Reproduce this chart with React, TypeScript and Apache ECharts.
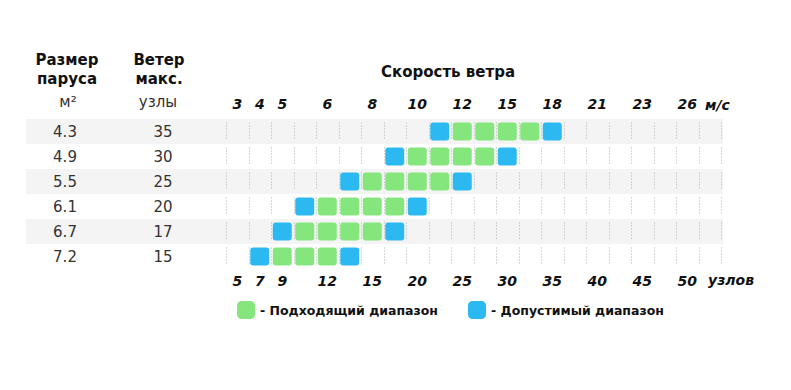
import React, { useEffect, useRef } from "react";
import * as echarts from "echarts";

// Sail sizes (m²) and max wind (knots), top row first
const sailSizes = ["4.3", "4.9", "5.5", "6.1", "6.7", "7.2"];
const maxWind = ["35", "30", "25", "20", "17", "15"];

// Wind speed columns: top labels in m/s, bottom labels in knots ('' = no label)
const msLabels = ["3", "4", "5", "", "6", "", "8", "", "10", "", "12", "", "15", "", "18", "", "21", "", "23", "", "26", ""];
const knotLabels = ["5", "7", "9", "", "12", "", "15", "", "20", "", "25", "", "30", "", "35", "", "40", "", "45", "", "50", ""];

// Column indices per sail row
const optimalCols = [
  [10, 11, 12, 13],
  [8, 9, 10, 11],
  [6, 7, 8, 9],
  [4, 5, 6, 7],
  [3, 4, 5, 6],
  [2, 3, 4],
];
const acceptableCols = [
  [9, 14],
  [7, 12],
  [5, 10],
  [3, 8],
  [2, 7],
  [1, 5],
];

const optimalName = "Подходящий диапазон";
const acceptableName = "Допустимый диапазон";
const GREEN = "#86e67e";
const BLUE = "#2cb9f2";

const FONT = "DejaVu Sans";

export default function App() {
  const ref = useRef<HTMLDivElement>(null);

  useEffect(() => {
    if (!ref.current) return;
    const chart = echarts.init(ref.current, null, { renderer: "svg" });

    const optimalData: number[][] = [];
    optimalCols.forEach((cols, r) => cols.forEach((c) => optimalData.push([c, r])));
    const acceptableData: number[][] = [];
    acceptableCols.forEach((cols, r) => cols.forEach((c) => acceptableData.push([c, r])));

    const cellRender = (params: any, api: any) => {
      const c = api.coord([api.value(0), api.value(1)]);
      return {
        type: "rect",
        shape: { x: c[0] - 9.5, y: c[1] - 9, width: 19, height: 18, r: 3 },
        style: { fill: api.visual("color") },
      };
    };

    const gridRender = (params: any, api: any) => {
      const row = api.value(1);
      const c = api.coord([0, row]);
      const size = api.size([1, 1]);
      const x0 = c[0] - size[0] / 2;
      const children: any[] = [];
      for (let k = 0; k <= msLabels.length; k++) {
        const x = Math.round(x0 + k * size[0]) + 0.5;
        children.push({
          type: "line",
          shape: { x1: x, y1: c[1] - 9, x2: x, y2: c[1] + 9 },
          style: { stroke: "#b0b0b0", lineWidth: 1, lineDash: [1, 2] },
        });
      }
      return { type: "group", children };
    };

    const catIdx = msLabels.map((_, i) => String(i));

    chart.setOption({
      animation: false,
      backgroundColor: "#ffffff",
      textStyle: { fontFamily: FONT },
      grid: [
        { left: 26, top: 119, width: 697, height: 150 },
        { left: 226, top: 119, width: 495, height: 150 },
      ],
      xAxis: [
        { type: "value", gridIndex: 0, show: false, min: 0, max: 1 },
        {
          type: "category",
          gridIndex: 1,
          position: "top",
          data: catIdx,
          axisLine: { show: false },
          axisTick: { show: false },
          splitLine: { show: false },
          axisLabel: {
            interval: 0,
            margin: 8,
            formatter: (_v: string, i: number) => msLabels[i],
            fontFamily: FONT,
            fontSize: 14,
            fontWeight: "bold",
            fontStyle: "italic",
            color: "#111",
          },
        },
        {
          type: "category",
          gridIndex: 1,
          position: "bottom",
          data: catIdx,
          axisLine: { show: false },
          axisTick: { show: false },
          splitLine: { show: false },
          axisLabel: {
            interval: 0,
            margin: 5,
            formatter: (_v: string, i: number) => knotLabels[i],
            fontFamily: FONT,
            fontSize: 14,
            fontWeight: "bold",
            fontStyle: "italic",
            color: "#111",
          },
        },
      ],
      yAxis: [
        {
          type: "category",
          gridIndex: 0,
          inverse: true,
          data: sailSizes,
          axisLine: { show: false },
          axisTick: { show: false },
          axisLabel: { show: false },
          splitArea: { show: true, areaStyle: { color: ["#f4f4f4", "#ffffff"] } },
        },
        {
          type: "category",
          gridIndex: 1,
          inverse: true,
          position: "left",
          data: sailSizes,
          axisLine: { show: false },
          axisTick: { show: false },
          axisLabel: {
            align: "center",
            margin: 161,
            fontFamily: FONT,
            fontSize: 15,
            color: "#333",
          },
        },
        {
          type: "category",
          gridIndex: 1,
          inverse: true,
          position: "left",
          data: maxWind,
          axisLine: { show: false },
          axisTick: { show: false },
          axisLabel: {
            align: "center",
            margin: 63,
            fontFamily: FONT,
            fontSize: 15,
            color: "#333",
          },
        },
      ],
      legend: {
        left: 237,
        top: 301,
        padding: 0,
        itemWidth: 18,
        itemHeight: 18,
        itemGap: 30,
        data: [
          { name: optimalName, icon: "roundRect" },
          { name: acceptableName, icon: "roundRect" },
        ],
        formatter: (n: string) => "- " + n,
        textStyle: { fontFamily: FONT, fontSize: 12.5, fontWeight: "bold", color: "#111" },
      },
      graphic: [
        {
          type: "text",
          x: 67,
          y: 69,
          style: {
            text: "Размер\nпаруса",
            font: `bold 15px "${FONT}"`,
            fill: "#111",
            align: "center",
            verticalAlign: "middle",
            lineHeight: 19,
          },
        },
        {
          type: "text",
          x: 68,
          y: 102,
          style: { text: "м²", font: `15px "${FONT}"`, fill: "#333", align: "center", verticalAlign: "middle" },
        },
        {
          type: "text",
          x: 159,
          y: 69,
          style: {
            text: "Ветер\nмакс.",
            font: `bold 15px "${FONT}"`,
            fill: "#111",
            align: "center",
            verticalAlign: "middle",
            lineHeight: 19,
          },
        },
        {
          type: "text",
          x: 158,
          y: 102,
          style: { text: "узлы", font: `15px "${FONT}"`, fill: "#333", align: "center", verticalAlign: "middle" },
        },
        {
          type: "text",
          x: 448,
          y: 72,
          style: {
            text: "Скорость ветра",
            font: `bold 15px "${FONT}"`,
            fill: "#111",
            align: "center",
            verticalAlign: "middle",
          },
        },
        {
          type: "text",
          x: 705,
          y: 105,
          style: {
            text: "м/с",
            font: `italic bold 14px "${FONT}"`,
            fill: "#111",
            align: "left",
            verticalAlign: "middle",
          },
        },
        {
          type: "text",
          x: 708,
          y: 280,
          style: {
            text: "узлов",
            font: `italic bold 14px "${FONT}"`,
            fill: "#111",
            align: "left",
            verticalAlign: "middle",
          },
        },
      ],
      series: [
        {
          type: "custom",
          name: "grid",
          xAxisIndex: 1,
          yAxisIndex: 1,
          silent: true,
          renderItem: gridRender,
          data: sailSizes.map((_, r) => [0, r]),
        },
        {
          type: "custom",
          name: optimalName,
          xAxisIndex: 1,
          yAxisIndex: 1,
          itemStyle: { color: GREEN },
          renderItem: cellRender,
          data: optimalData,
        },
        {
          type: "custom",
          name: acceptableName,
          xAxisIndex: 1,
          yAxisIndex: 1,
          itemStyle: { color: BLUE },
          renderItem: cellRender,
          data: acceptableData,
        },
      ],
    });

    return () => chart.dispose();
  }, []);

  return (
    <div
      ref={ref}
      style={{ position: "absolute", left: 0, top: 0, width: 791, height: 390 }}
    />
  );
}
